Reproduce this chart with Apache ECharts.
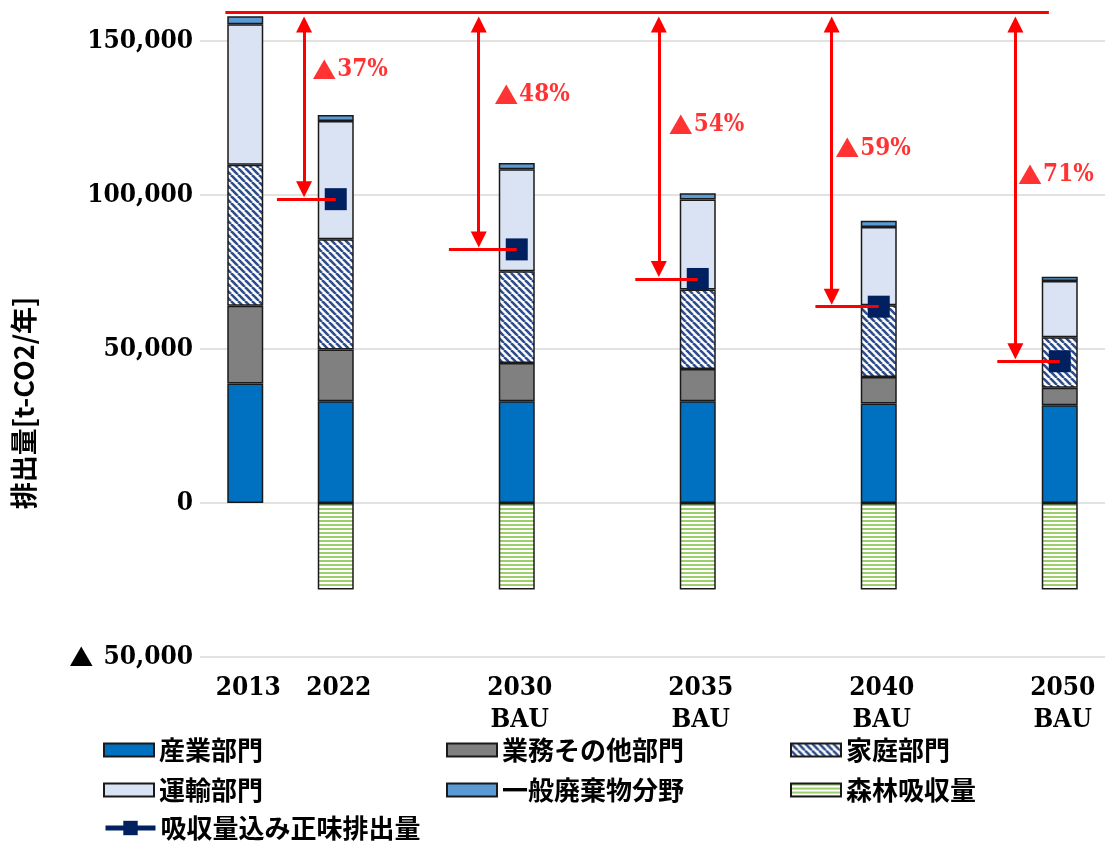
<!DOCTYPE html>
<html><head><meta charset="utf-8">
<script src="https://cdn.jsdelivr.net/npm/echarts@6/dist/echarts.min.js"></script>
<style>html,body{margin:0;padding:0;background:#fff}#c{width:1105px;height:848px}</style>
</head><body><div id="c"></div>
<script>
// ---- data ----
const years = ['2013', '2022', '2030', '2035', '2040', '2050'];
const yearNotes = ['', '', 'BAU', 'BAU', 'BAU', 'BAU'];
const industry  = [38800, 33000, 33000, 33000, 32300, 31700];
const business  = [25200, 16800, 12400, 10500, 8600, 5700];
const household = [45800, 35800, 29800, 25800, 23300, 16400];
const transport = [45600, 38400, 33100, 29200, 25400, 18200];
const waste     = [2600, 1900, 2000, 2000, 2000, 1400];
const forest    = [null, -28100, -28100, -28100, -28100, -28100];
const netEmission = [null, 98600, 82300, 72700, 63700, 46000];
const baseLevel = 159300;
const reductionLabels = ['', '37%', '48%', '54%', '59%', '71%'];
const seriesNames = ['産業部門', '業務その他部門', '家庭部門', '運輸部門', '一般廃棄物分野', '森林吸収量', '吸収量込み正味排出量'];
const yTickStep = 50000;

// ---- layout helpers ----
const slotOf = i => (i === 0 ? 0 : 2 * i - 1);
const slotCount = 10;
const categories = new Array(slotCount).fill('');
years.forEach((y, i) => { categories[slotOf(i)] = yearNotes[i] ? y + '\n' + yearNotes[i] : y; });
const toSlots = arr => { const out = new Array(slotCount).fill(null); arr.forEach((v, i) => { out[slotOf(i)] = v; }); return out; };

const arrowOff = [0, -0.35, -0.42, -0.43, -0.52, -0.49];
const lineStartOff = [0, -0.65, -0.75, -0.69, -0.70, -0.69];
const labelOff = [0, -0.26, -0.25, -0.32, -0.48, -0.46];
const labelY = [0, 140500, 132400, 122600, 115100, 106400];
const headTop = 4000, headBottom = 3250; // arrow head centre offsets (value units)

// ---- patterns ----
function hatchPattern() {
  const s = 7, c = document.createElement('canvas'); c.width = s; c.height = s;
  const g = c.getContext('2d');
  g.fillStyle = '#ffffff'; g.fillRect(0, 0, s, s);
  g.strokeStyle = '#2e4d8c'; g.lineWidth = 2.6;
  for (let k = -1; k <= 1; k++) { g.beginPath(); g.moveTo(k * s, 0); g.lineTo(k * s + s, s); g.stroke(); }
  return { image: c, repeat: 'repeat' };
}
function stripePattern() {
  const c = document.createElement('canvas'); c.width = 4; c.height = 4;
  const g = c.getContext('2d');
  g.fillStyle = '#ffffff'; g.fillRect(0, 0, 4, 4);
  g.fillStyle = '#9ccf6c'; g.fillRect(0, 0, 4, 2);
  return { image: c, repeat: 'repeat' };
}

const numFont = '"DejaVu Serif Condensed", "DejaVu Serif", serif';
const numFmt = v => String(Math.abs(v)).replace(/\B(?=(\d{3})+(?!\d))/g, ',');
const border = { borderColor: '#1a1a1a', borderWidth: 1.5 };
const barBase = { type: 'bar', stack: 'total', barWidth: 36, z: 2, xAxisIndex: 0, yAxisIndex: 0 };
const fills = ['#0070c0', '#808080', hatchPattern(), '#dae3f3', '#5b9bd5', stripePattern()];
const barValues = [industry, business, household, transport, waste, forest];

const series = barValues.map((vals, k) => Object.assign({}, barBase, {
  name: seriesNames[k],
  data: toSlots(vals),
  itemStyle: Object.assign({ color: fills[k] }, border)
}));

const annIdx = [1, 2, 3, 4, 5];
series.push({
  type: 'scatter', name: 'labels', xAxisIndex: 1, yAxisIndex: 0, z: 3, silent: true,
  symbolSize: 0,
  data: annIdx.map(i => [slotOf(i) + labelOff[i], labelY[i]]),
  label: {
    show: true, position: 'right', distance: 0,
    formatter: p => '{t|▲}{n|' + reductionLabels[annIdx[p.dataIndex]] + '}',
    rich: {
      t: { color: '#ff0000', fontSize: 24, fontFamily: '"Noto Sans CJK JP", sans-serif', padding: [0, 1, 0, 0] },
      n: { color: '#ff0000', fontSize: 24, fontWeight: 'bold', fontFamily: numFont }
    }
  },
  markLine: {
    silent: true, symbol: 'none', animation: false,
    label: { show: false },
    lineStyle: { color: '#ff0000', width: 3, type: 'solid' },
    emphasis: { disabled: true },
    data: [[{ coord: [-0.22, baseLevel] }, { coord: [8.88, baseLevel] }]]
      .concat(annIdx.map(i => [{ coord: [slotOf(i) + lineStartOff[i], netEmission[i]] }, { coord: [slotOf(i), netEmission[i]] }]))
  }
});
series.push({
  type: 'scatter', name: 'arrows', xAxisIndex: 1, yAxisIndex: 0, z: 3, silent: true,
  symbolSize: 0, data: [],
  markLine: {
    silent: true, animation: false,
    symbol: ['triangle', 'triangle'], symbolSize: 16,
    label: { show: false },
    lineStyle: { color: '#ff0000', width: 3, type: 'solid' },
    emphasis: { disabled: true },
    data: annIdx.map(i => [{ coord: [slotOf(i) + arrowOff[i], baseLevel - headTop] }, { coord: [slotOf(i) + arrowOff[i], netEmission[i] + headBottom] }])
  }
});
series.push({
  type: 'line', name: seriesNames[6], xAxisIndex: 0, yAxisIndex: 0, z: 4,
  data: toSlots(netEmission), connectNulls: false,
  symbol: 'rect', symbolSize: 22, showAllSymbol: true,
  lineStyle: { color: '#002060', width: 5 },
  itemStyle: { color: '#002060' }
});

const legendText = { fontSize: 26, fontWeight: 'bold', color: '#000', fontFamily: '"Noto Sans CJK JP", sans-serif' };
const legendBase = { orient: 'vertical', top: 737, padding: 0, itemWidth: 50, itemHeight: 13, itemGap: 14, itemTextGap: 7, selectedMode: false, textStyle: legendText };
const li = n => ({ name: n, icon: 'rect' });

const chart = echarts.init(document.getElementById('c'), null, { renderer: 'canvas' });
chart.setOption({
  animation: false,
  backgroundColor: '#ffffff',
  grid: { left: 200, right: -1, top: 10, bottom: 191, containLabel: false },
  xAxis: [
    { type: 'category', data: categories, gridIndex: 0, position: 'bottom',
      axisLine: { show: false, onZero: false }, axisTick: { show: false }, splitLine: { show: false },
      axisLabel: { interval: 0, margin: 15, lineHeight: 32, fontSize: 26, fontWeight: 'bold', color: '#000',
        fontFamily: numFont, padding: [0, 0, 0, 6] } },
    { type: 'value', min: -0.5, max: 9.5, show: false, gridIndex: 0 }
  ],
  yAxis: [{
    type: 'value', min: -50000, max: 160000, interval: yTickStep,
    axisLine: { show: false }, axisTick: { show: false },
    splitLine: { show: true, showMaxLine: false, lineStyle: { color: '#d9d9d9', width: 1.5 } },
    axisLabel: { showMaxLabel: false, margin: 7, fontSize: 26, fontWeight: 'bold', color: '#000',
      fontFamily: numFont,
      formatter: v => (v > 150000 ? '' : (v < 0 ? '{t|▲} ' + numFmt(v) : numFmt(v))),
      rich: { t: { fontSize: 24, fontFamily: '"Noto Sans CJK JP", sans-serif', color: '#000', padding: [0, 2, 0, 0] } } }
  }],
  legend: [
    Object.assign({}, legendBase, { left: 103, data: [li(seriesNames[0]), li(seriesNames[3])] }),
    Object.assign({}, legendBase, { left: 103, top: 815, itemHeight: 18,
      lineStyle: { width: 5, color: '#002060' },
      data: [{ name: seriesNames[6], lineStyle: { width: 5, color: '#002060' }, itemStyle: { color: '#002060' } }] }),
    Object.assign({}, legendBase, { left: 446, data: [li(seriesNames[1]), li(seriesNames[4])] }),
    Object.assign({}, legendBase, { left: 790, data: [li(seriesNames[2]), li(seriesNames[5])] })
  ],
  graphic: [{
    type: 'text', x: 24, y: 403, rotation: Math.PI / 2, silent: true,
    style: { text: '排出量[t-CO2/年]', font: 'bold 27px "Noto Sans CJK JP", sans-serif', fill: '#000',
      align: 'center', verticalAlign: 'middle', textAlign: 'center', textVerticalAlign: 'middle' }
  }],
  series: series
});
</script>
</body></html>
